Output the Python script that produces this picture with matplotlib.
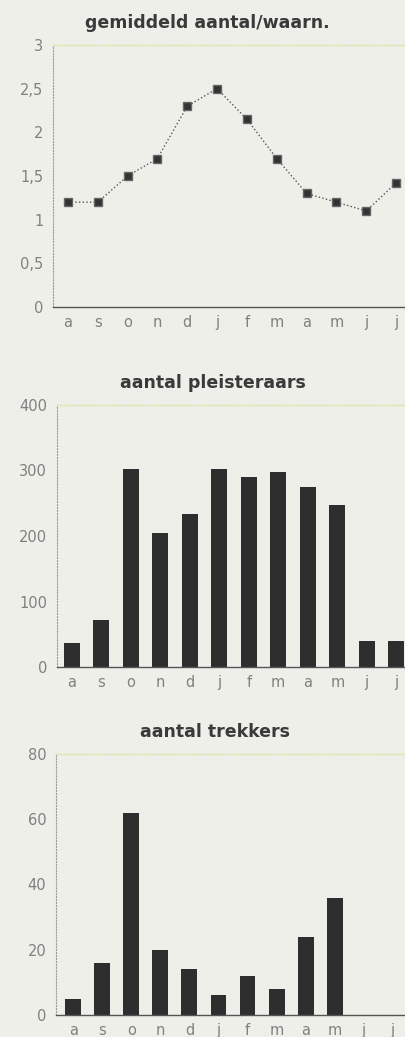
import matplotlib
matplotlib.use("Agg")
from matplotlib import pyplot as plt

# months (aug -> jul)
months = ["a", "s", "o", "n", "d", "j", "f", "m", "a", "m", "j", "j"]

# gemiddeld aantal per waarneming
avg_per_obs = [1.2, 1.2, 1.5, 1.7, 2.3, 2.5, 2.15, 1.7, 1.3, 1.2, 1.1, 1.42]
avg_ticks = [0, 0.5, 1, 1.5, 2, 2.5, 3]
avg_ticklabels = ["0", "0,5", "1", "1,5", "2", "2,5", "3"]

# aantal pleisteraars
resting = [37, 72, 303, 204, 233, 302, 290, 298, 275, 247, 39, 39]
resting_ticks = [0, 100, 200, 300, 400]

# aantal trekkers
migrants = [5, 16, 62, 20, 14, 6, 12, 8, 24, 36, 0, 0]
migrant_ticks = [0, 20, 40, 60, 80]

bg = "#efefea"
bar_col = "#2e2e2e"
title_col = "#3a3a3a"
tick_col = "#808080"

plt.rcParams["font.family"] = ["DejaVu Sans"]

fig = plt.figure(figsize=(4.05, 10.37), dpi=100)
fig.patch.set_facecolor(bg)

W, H = 405, 1037


def make_axes(left, top, bottom, right):
    ax = fig.add_axes([left / W, 1 - bottom / H, (right - left) / W, (bottom - top) / H])
    ax.set_facecolor(bg)
    ax.spines["left"].set_color("#9a9a9a")
    ax.spines["left"].set_linestyle(":")
    ax.spines["left"].set_linewidth(0.8)
    ax.spines["top"].set_color("#d8e6a0")
    ax.spines["top"].set_linestyle(":")
    ax.spines["top"].set_linewidth(1.0)
    ax.spines["right"].set_visible(False)
    ax.spines["bottom"].set_color("#555555")
    ax.spines["bottom"].set_linewidth(1.0)
    ax.tick_params(axis="both", length=0, colors=tick_col, labelsize=10.5)
    ax.tick_params(axis="x", pad=6)
    ax.tick_params(axis="y", pad=7)
    ax.set_xticks(range(len(months)))
    ax.set_xticklabels(months)
    ax.set_xlim(-0.5, len(months) - 0.5)
    return ax


# panel 1: line with square markers
ax1 = make_axes(53, 45, 307, 411)
ax1.plot(range(len(months)), avg_per_obs, color="#555555", linestyle=":", linewidth=1.0,
         marker="s", markersize=5.5, markerfacecolor="#333333", markeredgecolor="#666666")
ax1.set_ylim(0, 3)
ax1.set_yticks(avg_ticks)
ax1.set_yticklabels(avg_ticklabels)
ax1.set_title("gemiddeld aantal/waarn.", color=title_col, fontsize=12.5, fontweight="bold",
              pad=12, x=0.43)

# panel 2: bars
ax2 = make_axes(57, 405, 667, 411)
ax2.bar(range(len(months)), resting, width=0.55, color=bar_col)
ax2.set_ylim(0, 400)
ax2.set_yticks(resting_ticks)
ax2.set_title("aantal pleisteraars", color=title_col, fontsize=12.5, fontweight="bold",
              pad=12, x=0.44)

# panel 3: bars
ax3 = make_axes(56, 754, 1015, 410)
ax3.bar(range(len(months)), migrants, width=0.55, color=bar_col)
ax3.set_xlim(-0.6, len(months) - 0.4)
ax3.set_ylim(0, 80)
ax3.set_yticks(migrant_ticks)
ax3.set_title("aantal trekkers", color=title_col, fontsize=12.5, fontweight="bold",
              pad=12, x=0.45)

fig.savefig("out.png", dpi=100, facecolor=bg)
